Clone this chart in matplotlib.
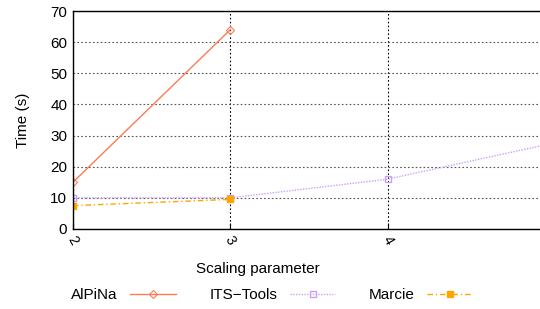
import matplotlib.pyplot as plt
import numpy as np

plt.rcParams['font.family'] = ['Liberation Sans', 'DejaVu Sans']

alpina_x = [2, 3]
alpina_y = [15, 64]
its_x = [2, 3, 4, 5]
its_y = [10, 10, 16, 27]
marcie_x = [2, 3]
marcie_y = [7.5, 9.5]

fig = plt.figure(figsize=(5.4, 3.09), dpi=100)
ax = fig.add_axes([0.135, 0.259, 0.874, 0.705])

ax.plot(alpina_x, alpina_y, color='#fb7c55', lw=1.0, marker='D', ms=4,
        mfc='none', mew=0.8, label='AlPiNa')
ax.plot(its_x, its_y, color='#c7a0f8', lw=1.0, ls=(0, (1, 1)), marker='s', ms=5,
        mfc='none', mew=1.0, label='ITS\u2212Tools')
ax.plot(marcie_x, marcie_y, color='#ffa500', lw=1.0, ls=(0, (4, 2, 1, 2)), marker='s', ms=5,
        label='Marcie')

ax.set_xlim(2, 5)
ax.set_ylim(0, 70)
ax.set_xticks([2, 3, 4])
ax.set_yticks(np.arange(0, 71, 10))
ax.tick_params(axis='x', labelrotation=-60, labelsize=10, length=4, direction='in')
ax.tick_params(axis='y', labelsize=11, length=0, pad=4)
ax.grid(axis='y', ls=(0, (1.5, 2)), color='#555555', lw=0.8)
ax.grid(axis='x', ls=(0, (1.5, 2)), color='black', lw=0.8)
ax.spines['right'].set_visible(False)
for s in ['left', 'bottom', 'top']:
    ax.spines[s].set_linewidth(1.0)

ax.set_xlabel('Scaling parameter', fontsize=11)
ax.xaxis.set_label_coords(0.392, -0.15)
ax.set_ylabel('Time (s)', fontsize=11, labelpad=15)

fig.legend(loc='center', bbox_to_anchor=(0.504, 0.045), ncol=3, frameon=False,
           markerfirst=False, fontsize=11, handlelength=3, handletextpad=0.8,
           columnspacing=2.2)

fig.savefig('out.png', dpi=100)
